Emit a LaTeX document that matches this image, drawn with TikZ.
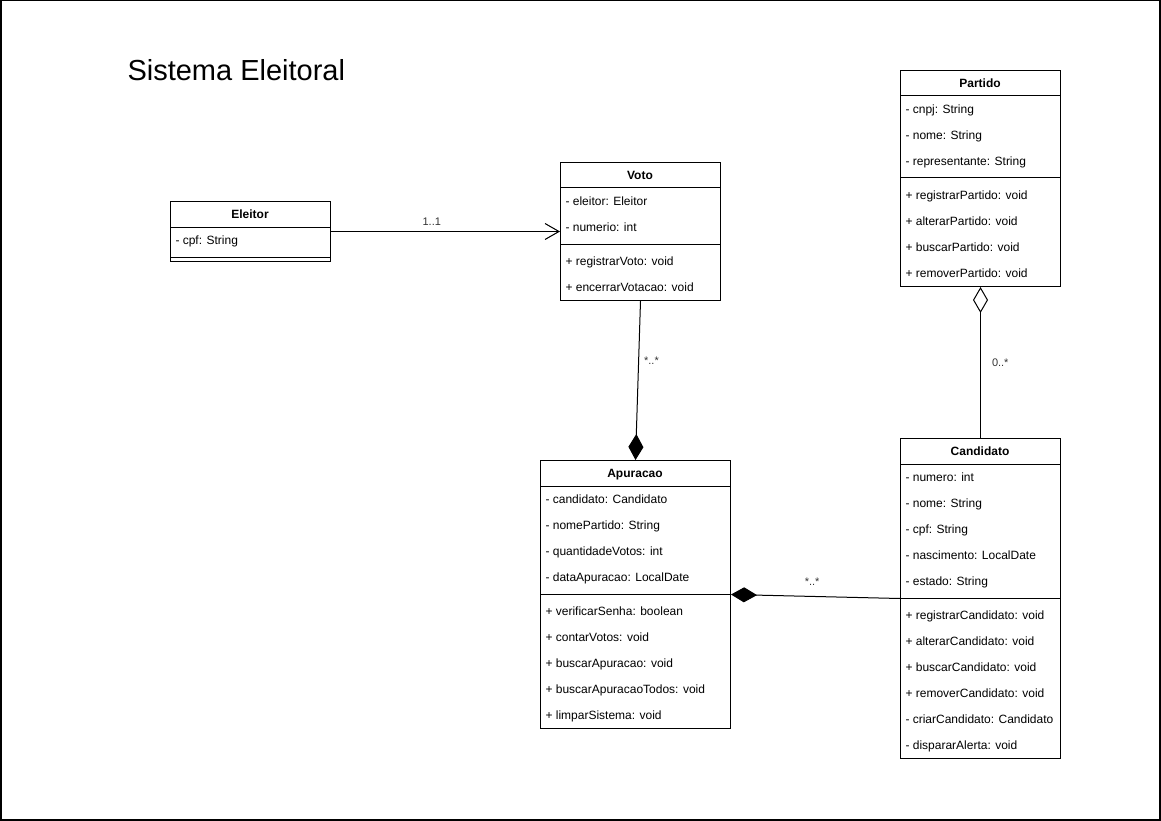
\documentclass[tikz,border=0pt]{standalone}
\usepackage{fontspec}
\setmainfont{Liberation Sans}
\usetikzlibrary{arrows.meta}

\tikzset{
	classbox/.style={draw, anchor=north west, inner sep=0pt, minimum width=160pt},
	classname/.style={font=\bfseries\fontsize{12}{14}\selectfont, text height=8.6pt, text depth=0pt, inner sep=0pt},
	member/.style={anchor=west, font=\fontsize{12}{14}\selectfont, text height=8.6pt, text depth=0pt, inner sep=0pt},
	mult/.style={font=\fontsize{11}{13}\selectfont, text=black!80, inner sep=1pt},
	assoc/.style={-{Straight Barb[length=14pt,width=16pt]}},
	composition/.style={-{Diamond[length=26pt,width=15pt]}},
	aggregation/.style={-{Diamond[open,length=26pt,width=15pt]}},
}

\begin{document}
\begin{tikzpicture}[x=1pt, y=-1pt, line width=1pt]
	\useasboundingbox (0,0) rectangle (1161,821);
	\draw[line width=1.5pt] (0.75,0.75) rectangle (1159.75,819.75);
	\node[anchor=base west, font=\fontsize{29}{34}\selectfont, inner sep=0pt] (title) at (127,81) {Sistema Eleitoral};

	% Eleitor
	\node[classbox, minimum height=60pt] (eleitor) at (170,201) {};
	\node[classname] (eleitor-name) at (250,214) {Eleitor};
	\draw (170,227) -- (330,227);
	\node[member] (eleitor-cpf) at (175,240) {- cpf: String};
	\draw (170,257) -- (330,257);

	% Voto
	\node[classbox, minimum height=138pt] (voto) at (560,162) {};
	\node[classname] (voto-name) at (640,175) {Voto};
	\draw (560,188) -- (720,188);
	\node[member] (voto-eleitor) at (565,201) {- eleitor: Eleitor};
	\node[member] (voto-numerio) at (565,227) {- numerio: int};
	\draw (560,244) -- (720,244);
	\node[member] (voto-registrar) at (565,261) {+ registrarVoto: void};
	\node[member] (voto-encerrar) at (565,287) {+ encerrarVotacao: void};

	% Partido
	\node[classbox, minimum height=216pt] (partido) at (900,70) {};
	\node[classname] (partido-name) at (980,83) {Partido};
	\draw (900,96) -- (1060,96);
	\node[member] (partido-cnpj) at (905,109) {- cnpj: String};
	\node[member] (partido-nome) at (905,135) {- nome: String};
	\node[member] (partido-repr) at (905,161) {- representante: String};
	\draw (900,178) -- (1060,178);
	\node[member] (partido-registrar) at (905,195) {+ registrarPartido: void};
	\node[member] (partido-alterar) at (905,221) {+ alterarPartido: void};
	\node[member] (partido-buscar) at (905,247) {+ buscarPartido: void};
	\node[member] (partido-remover) at (905,273) {+ removerPartido: void};

	% Apuracao
	\node[classbox, minimum width=190pt, minimum height=268pt] (apuracao) at (540,460) {};
	\node[classname] (apuracao-name) at (635,473) {Apuracao};
	\draw (540,486) -- (730,486);
	\node[member] (apuracao-candidato) at (545,499) {- candidato: Candidato};
	\node[member] (apuracao-partido) at (545,525) {- nomePartido: String};
	\node[member] (apuracao-qtd) at (545,551) {- quantidadeVotos: int};
	\node[member] (apuracao-data) at (545,577) {- dataApuracao: LocalDate};
	\draw (540,594) -- (730,594);
	\node[member] (apuracao-senha) at (545,611) {+ verificarSenha: boolean};
	\node[member] (apuracao-contar) at (545,637) {+ contarVotos: void};
	\node[member] (apuracao-buscar) at (545,663) {+ buscarApuracao: void};
	\node[member] (apuracao-todos) at (545,689) {+ buscarApuracaoTodos: void};
	\node[member] (apuracao-limpar) at (545,715) {+ limparSistema: void};

	% Candidato
	\node[classbox, minimum height=320pt] (candidato) at (900,438) {};
	\node[classname] (candidato-name) at (980,451) {Candidato};
	\draw (900,464) -- (1060,464);
	\node[member] (candidato-numero) at (905,477) {- numero: int};
	\node[member] (candidato-nome) at (905,503) {- nome: String};
	\node[member] (candidato-cpf) at (905,529) {- cpf: String};
	\node[member] (candidato-nasc) at (905,555) {- nascimento: LocalDate};
	\node[member] (candidato-estado) at (905,581) {- estado: String};
	\draw (900,598) -- (1060,598);
	\node[member] (candidato-registrar) at (905,615) {+ registrarCandidato: void};
	\node[member] (candidato-alterar) at (905,641) {+ alterarCandidato: void};
	\node[member] (candidato-buscar) at (905,667) {+ buscarCandidato: void};
	\node[member] (candidato-remover) at (905,693) {+ removerCandidato: void};
	\node[member] (candidato-criar) at (905,719) {- criarCandidato: Candidato};
	\node[member] (candidato-alerta) at (905,745) {- dispararAlerta: void};

	% relations
	\draw[assoc] (eleitor.east) -- node[mult, pos=0.44, above=5pt] (m-eleitor) {1..1} (voto.west);
	\draw[composition] (voto.south) -- node[mult, pos=0.375, right=4pt] (m-voto) {*..*} (apuracao.north);
	\draw[composition] (candidato.west) -- node[mult, pos=0.52, above=9pt] (m-candidato) {*..*} (apuracao.east);
	\draw[aggregation] (candidato.north) -- node[mult, pos=0.5, right=10pt] (m-partido) {0..*} (partido.south);
\end{tikzpicture}
\end{document}
